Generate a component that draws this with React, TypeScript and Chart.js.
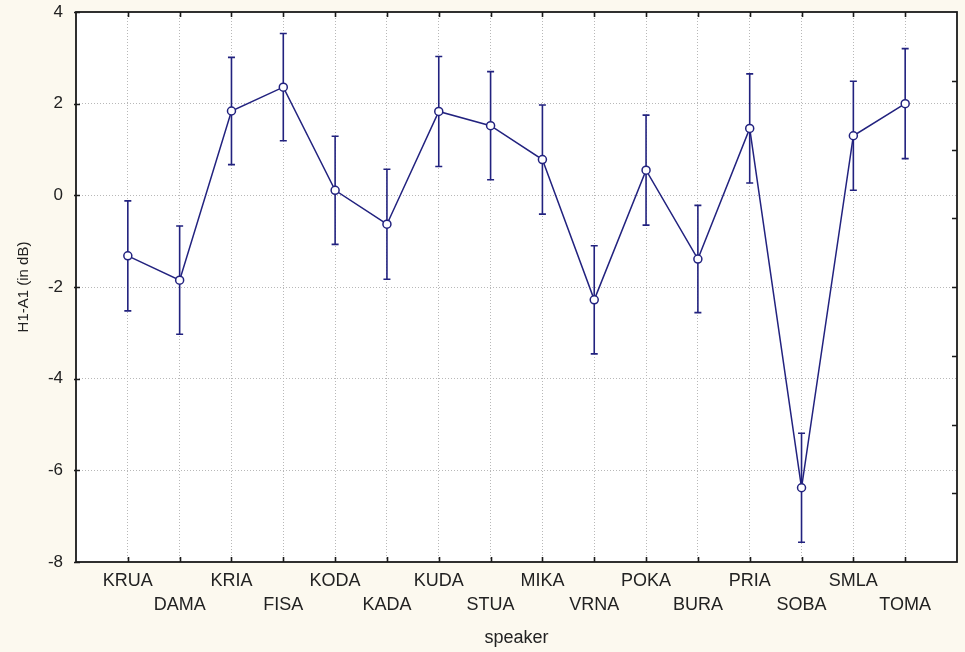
import React, { useEffect, useRef } from "react";
import { Chart, registerables } from "chart.js";

Chart.register(...registerables);

const speakers = ["KRUA", "DAMA", "KRIA", "FISA", "KODA", "KADA", "KUDA", "STUA", "MIKA", "VRNA", "POKA", "BURA", "PRIA", "SOBA", "SMLA", "TOMA"];
const means = [-1.32, -1.85, 1.84, 2.36, 0.11, -0.63, 1.83, 1.52, 0.78, -2.28, 0.55, -1.39, 1.46, -6.38, 1.3, 2.0];
const errors = [1.2, 1.18, 1.17, 1.17, 1.18, 1.2, 1.2, 1.18, 1.19, 1.18, 1.2, 1.17, 1.19, 1.19, 1.19, 1.2];
const yMin = -8;
const yMax = 4;
const yStep = 2;
const rightTicks = [-6.5, -5, -3.5, -2, -0.5, 1, 2.5];

const NAVY = "#22227f";
const FONT = "'Liberation Sans', Arial, sans-serif";

const errorBarPlugin = {
  id: "errorBars",
  beforeDatasetsDraw(chart: any) {
    const { ctx, scales } = chart;
    const xs = scales.x;
    const ys = scales.y;
    ctx.save();
    ctx.strokeStyle = NAVY;
    ctx.lineWidth = 1.6;
    means.forEach((m, i) => {
      const px = xs.getPixelForValue(i);
      const top = ys.getPixelForValue(m + errors[i]);
      const bot = ys.getPixelForValue(m - errors[i]);
      ctx.beginPath();
      ctx.moveTo(px, top);
      ctx.lineTo(px, bot);
      ctx.moveTo(px - 3.5, top);
      ctx.lineTo(px + 3.5, top);
      ctx.moveTo(px - 3.5, bot);
      ctx.lineTo(px + 3.5, bot);
      ctx.stroke();
    });
    ctx.restore();
  },
};

const framePlugin = {
  id: "frame",
  beforeDraw(chart: any) {
    const { ctx, chartArea: a } = chart;
    ctx.save();
    ctx.fillStyle = "#ffffff";
    ctx.fillRect(a.left, a.top, a.right - a.left, a.bottom - a.top);
    ctx.restore();
  },
  afterDraw(chart: any) {
    const { ctx, chartArea: a, scales } = chart;
    const xs = scales.x;
    const ys = scales.y;
    ctx.save();
    ctx.strokeStyle = "#1a1a1a";
    ctx.lineWidth = 1.6;
    ctx.beginPath();
    speakers.forEach((_, i) => {
      const px = Math.round(xs.getPixelForValue(i)) + 0.5;
      ctx.moveTo(px, a.top);
      ctx.lineTo(px, a.top + 5);
      ctx.moveTo(px, a.bottom);
      ctx.lineTo(px, a.bottom - 5);
    });
    for (let v = yMin; v <= yMax; v += yStep) {
      const py = Math.round(ys.getPixelForValue(v)) + 0.5;
      ctx.moveTo(a.left - 2, py);
      ctx.lineTo(a.left + 4, py);
    }
    rightTicks.forEach((v) => {
      const py = Math.round(ys.getPixelForValue(v)) + 0.5;
      ctx.moveTo(a.right, py);
      ctx.lineTo(a.right - 5, py);
    });
    ctx.stroke();
    ctx.lineWidth = 1.8;
    ctx.strokeRect(a.left, a.top, a.right - a.left, a.bottom - a.top);
    ctx.restore();
  },
};

export default function App() {
  const canvasRef = useRef<HTMLCanvasElement | null>(null);

  useEffect(() => {
    const canvas = canvasRef.current;
    if (!canvas) return;
    const chart = new Chart(canvas, {
      type: "line",
      data: {
        datasets: [
          {
            data: speakers.map((_, i) => ({ x: i, y: means[i] })),
            borderColor: NAVY,
            borderWidth: 1.5,
            pointRadius: 4,
            pointBackgroundColor: "#ffffff",
            pointBorderColor: NAVY,
            pointBorderWidth: 1.5,
            fill: false,
            tension: 0,
          },
        ],
      },
      options: {
        animation: false,
        responsive: false,
        layout: { padding: { top: 12, right: 8, bottom: 0, left: 0 } },
        plugins: {
          legend: { display: false },
          tooltip: { enabled: false },
        },
        scales: {
          x: {
            type: "linear",
            min: -1,
            max: speakers.length,
            offset: false,
            afterFit: (s: any) => {
              s.height = 90;
              s.paddingLeft = 0;
              s.paddingRight = 0;
            },
            ticks: {
              stepSize: 1,
              autoSkip: false,
              maxRotation: 0,
              minRotation: 0,
              padding: 8,
              color: "#222222",
              font: { family: FONT, size: 18, lineHeight: 1.28 },
              callback: (v: any) => {
                const i = Math.round(Number(v));
                if (i < 0 || i >= speakers.length) return "";
                return i % 2 === 1 ? ["", speakers[i]] : speakers[i];
              },
            },
            grid: {
              drawTicks: false,
              lineWidth: 1,
              color: (c: any) => {
                const v = c.tick ? c.tick.value : -1;
                return v >= 0 && v < speakers.length ? "#b8b8b8" : "rgba(0,0,0,0)";
              },
            },
            border: { display: false, dash: [1, 2] },
            title: {
              display: true,
              text: "speaker",
              color: "#222222",
              font: { family: FONT, size: 18 },
              padding: { top: 0, bottom: 3 },
            },
          },
          y: {
            min: yMin,
            max: yMax,
            afterFit: (s: any) => {
              s.width = 76;
              s.paddingTop = 0;
              s.paddingBottom = 0;
            },
            ticks: {
              stepSize: yStep,
              padding: 13,
              color: "#222222",
              font: { family: FONT, size: 17 },
            },
            grid: {
              drawTicks: false,
              lineWidth: 1,
              color: (c: any) => {
                const v = c.tick ? c.tick.value : yMin;
                return v > yMin && v < yMax ? "#b8b8b8" : "rgba(0,0,0,0)";
              },
            },
            border: { display: false, dash: [1, 2] },
            title: {
              display: true,
              text: "H1-A1 (in dB)",
              color: "#222222",
              font: { family: FONT, size: 15 },
              padding: { top: 15, bottom: 0 },
            },
          },
        },
      },
      plugins: [framePlugin, errorBarPlugin],
    } as any);
    return () => chart.destroy();
  }, []);

  return (
    <div
      style={{
        position: "absolute",
        left: 0,
        top: 0,
        width: 965,
        height: 652,
        background: "#fcf9ef",
      }}
    >
      <canvas ref={canvasRef} width={965} height={652} style={{ display: "block" }} />
    </div>
  );
}
